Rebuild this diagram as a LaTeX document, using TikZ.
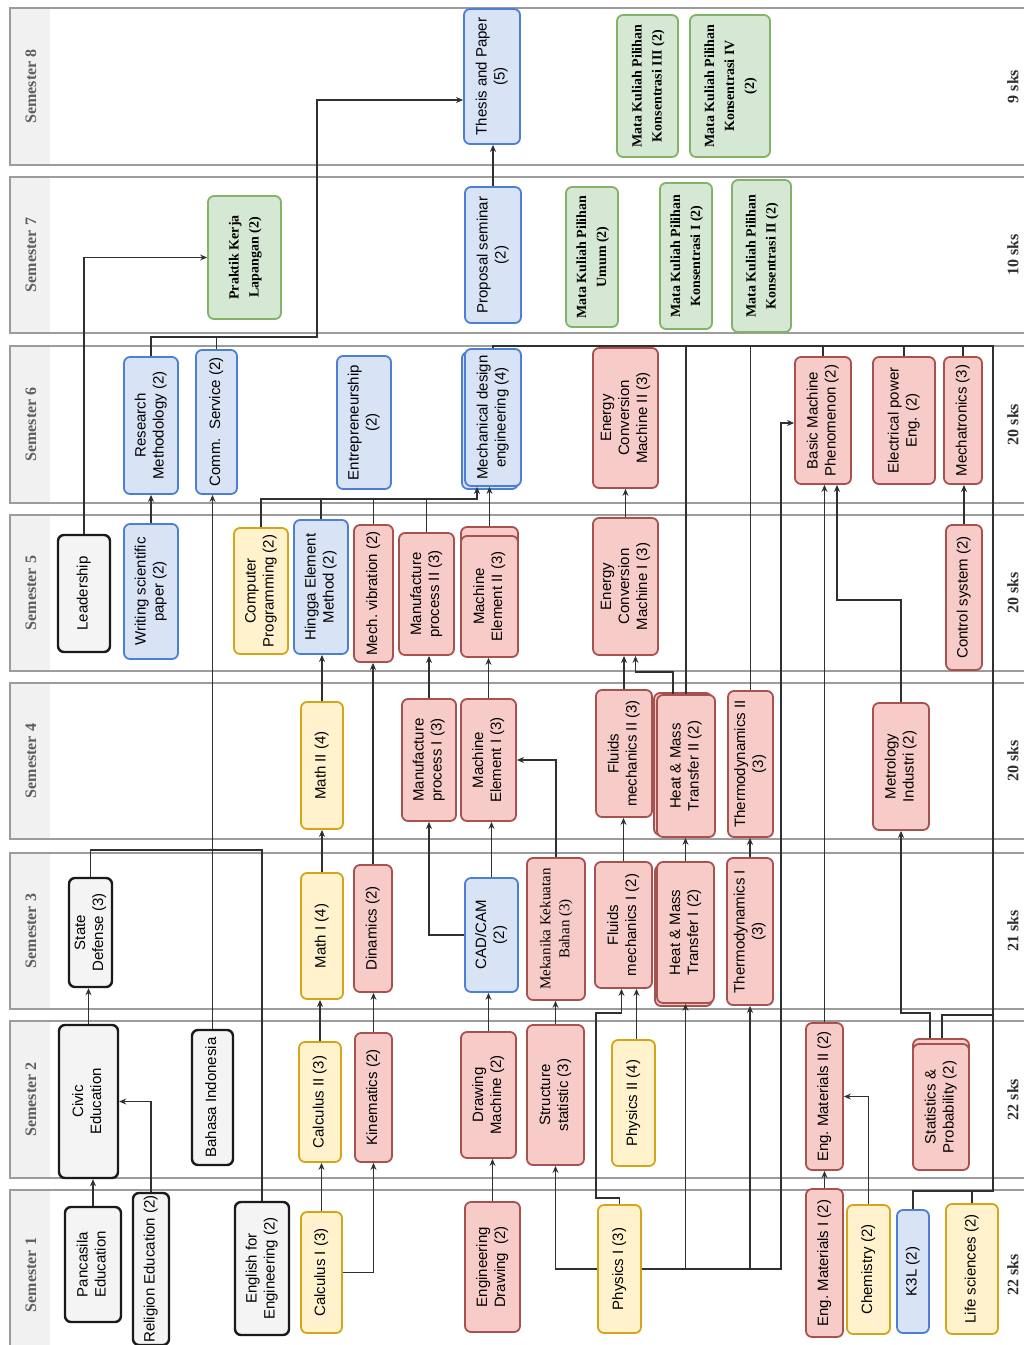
\documentclass[tikz,border=0pt]{standalone}
\usepackage{fontspec}
\setmainfont{Liberation Sans}
\newfontfamily\serf{Liberation Serif}
\usepackage{graphicx}
\usetikzlibrary{arrows.meta,positioning,calc,shadows}
\definecolor{cBlue}{HTML}{D9E3F6}
\definecolor{cBlueL}{HTML}{4D7FD6}
\definecolor{cRed}{HTML}{F6CBC8}
\definecolor{cRedL}{HTML}{A8524F}
\definecolor{cYel}{HTML}{FFF2CC}
\definecolor{cYelL}{HTML}{D4A516}
\definecolor{cGrn}{HTML}{D5E8D4}
\definecolor{cGrnL}{HTML}{82B366}
\definecolor{cGry}{HTML}{F4F4F4}
\definecolor{cDark}{HTML}{1A1A1A}
\definecolor{cLine}{HTML}{303030}
\definecolor{cBand}{HTML}{9C9C9C}
\definecolor{cHead}{HTML}{F1F1F1}
\definecolor{cSem}{HTML}{5E5E5E}
\newcommand{\vt}[1]{\rotatebox{90}{\begin{tabular}{@{}c@{}}#1\end{tabular}}}
\tikzset{
  crs/.style    = {rectangle, rounded corners=6pt, line width=1.8pt, inner sep=0pt,
                   font=\fontsize{15}{18}\selectfont, text=black},
  wh/.style n args = {2}{minimum width=#1, minimum height=#2},
  blub/.style   = {crs, draw=cBlueL, fill=cBlue},
  redb/.style   = {crs, draw=cRedL, fill=cRed},
  yelb/.style   = {crs, draw=cYelL, fill=cYel},
  grnb/.style   = {crs, draw=cGrnL, fill=cGrn, font=\serf\bfseries\fontsize{14}{20}\selectfont},
  gryb/.style   = {crs, draw=cDark, fill=cGry, line width=2.4pt},
  band/.style   = {draw=cBand, line width=1.3pt},
  semlab/.style = {font=\serf\bfseries\fontsize{16}{18}\selectfont, text=cSem, inner sep=0pt},
  skslab/.style = {font=\serf\bfseries\fontsize{16}{18}\selectfont, text=cLine, inner sep=0pt},
  fl/.style     = {-{Stealth[length=7pt,width=6pt]}, draw=cLine, line width=1.1pt},
  ln/.style     = {draw=cLine, line width=1.1pt},
}

\begin{document}
\begin{tikzpicture}[x=1pt, y=-1pt]
  \useasboundingbox (0,0) rectangle (1024,1345);

  % semester bands
  \fill[cHead] (10,8) rectangle (50,165);
  \draw[band] (10,8) rectangle (1034,165);
  \node[semlab] (s8) at (31,86.5) {\rotatebox{90}{Semester 8}};
  \node[skslab] (k8) at (1013,86.5) {\rotatebox{90}{9 sks}};
  \fill[cHead] (10,177) rectangle (50,333);
  \draw[band] (10,177) rectangle (1034,333);
  \node[semlab] (s7) at (31,255) {\rotatebox{90}{Semester 7}};
  \node[skslab] (k7) at (1013,255) {\rotatebox{90}{10 sks}};
  \fill[cHead] (10,346) rectangle (50,503);
  \draw[band] (10,346) rectangle (1034,503);
  \node[semlab] (s6) at (31,424.5) {\rotatebox{90}{Semester 6}};
  \node[skslab] (k6) at (1013,424.5) {\rotatebox{90}{20 sks}};
  \fill[cHead] (10,515) rectangle (50,671);
  \draw[band] (10,515) rectangle (1034,671);
  \node[semlab] (s5) at (31,593) {\rotatebox{90}{Semester 5}};
  \node[skslab] (k5) at (1013,593) {\rotatebox{90}{20 sks}};
  \fill[cHead] (10,683) rectangle (50,839);
  \draw[band] (10,683) rectangle (1034,839);
  \node[semlab] (s4) at (31,761) {\rotatebox{90}{Semester 4}};
  \node[skslab] (k4) at (1013,761) {\rotatebox{90}{20 sks}};
  \fill[cHead] (10,853) rectangle (50,1009);
  \draw[band] (10,853) rectangle (1034,1009);
  \node[semlab] (s3) at (31,931) {\rotatebox{90}{Semester 3}};
  \node[skslab] (k3) at (1013,931) {\rotatebox{90}{21 sks}};
  \fill[cHead] (10,1021) rectangle (50,1178);
  \draw[band] (10,1021) rectangle (1034,1178);
  \node[semlab] (s2) at (31,1099.5) {\rotatebox{90}{Semester 2}};
  \node[skslab] (k2) at (1013,1099.5) {\rotatebox{90}{22 sks}};
  \fill[cHead] (10,1190) rectangle (50,1360);
  \draw[band] (10,1190) rectangle (1034,1360);
  \node[semlab] (s1) at (31,1275) {\rotatebox{90}{Semester 1}};
  \node[skslab] (k1) at (1013,1275) {\rotatebox{90}{22 sks}};

  % semester 8
  \node[blub, wh={56}{135}] (thesis) at (492,76.5) {\vt{Thesis and Paper\\(5)}};
  \node[grnb, wh={61}{142}] (mkp3) at (647.5,86) {\vt{Mata Kuliah Pilihan\\Konsentrasi III (2)}};
  \node[grnb, wh={80}{142}] (mkp4) at (730,86) {\vt{Mata Kuliah Pilihan\\Konsentrasi IV\\(2)}};

  % semester 7
  \node[grnb, wh={73}{123}] (pkl) at (244.5,257.5) {\vt{Praktik Kerja\\Lapangan (2)}};
  \node[blub, wh={56}{136}] (proposal) at (493,255) {\vt{Proposal seminar\\(2)}};
  \node[grnb, wh={52}{140}] (mkpu) at (592,257) {\vt{Mata Kuliah Pilihan\\Umum (2)}};
  \node[grnb, wh={52}{146}] (mkpk1) at (686,256) {\vt{Mata Kuliah Pilihan\\Konsentrasi I (2)}};
  \node[grnb, wh={59}{152}] (mkpk2) at (761.5,256) {\vt{Mata Kuliah Pilihan\\Konsentrasi II (2)}};

  % semester 6
  \node[blub, wh={54}{137}] (resmeth) at (151,425.5) {\vt{Research\\Methodology (2)}};
  \node[blub, wh={41}{144}] (commserv) at (216.5,422) {\vt{Comm.\ \ Service (2)}};
  \node[blub, wh={54}{133}] (entre) at (364,422.5) {\vt{Entrepreneurship\\(2)}};
  \node[blub, copy shadow={shadow xshift=-3pt, shadow yshift=-3pt}, wh={56}{137}] (mechdes) at (493,417.5) {\vt{Mechanical design\\engineering (4)}};
  \node[redb, wh={65}{140}] (ecm2) at (625.5,418) {\vt{Energy\\Conversion\\Machine II (3)}};
  \node[redb, wh={56}{127}] (basic) at (823,420.5) {\vt{Basic Machine\\Phenomenon (2)}};
  \node[redb, wh={62}{127}] (elec) at (904,420.5) {\vt{Electrical power\\Eng. (2)}};
  \node[redb, wh={38}{127}] (mecha) at (963,420.5) {\vt{Mechatronics (3)}};

  % semester 5
  \node[gryb, wh={52}{117}] (leader) at (84,593.5) {\vt{Leadership}};
  \node[blub, wh={54}{135}] (writing) at (151,591.5) {\vt{Writing scientific\\paper (2)}};
  \node[yelb, wh={54}{126}] (comprog) at (261,591) {\vt{Computer\\Programming (2)}};
  \node[blub, wh={54}{134}] (hingga) at (321,587) {\vt{Hingga Element\\Method (2)}};
  \node[redb, wh={39}{137}] (mechvib) at (373.5,593.5) {\vt{Mech.\ vibration (2)}};
  \node[redb, wh={55}{122}] (manuf2) at (426.5,594) {\vt{Manufacture\\process II (3)}};
  \node[redb, copy shadow={shadow xshift=0pt, shadow yshift=9pt}, wh={57}{121}] (machel2) at (489.5,596.5) {\vt{Machine\\Element II (3)}};
  \node[redb, wh={65}{137}] (ecm1) at (625.5,586.5) {\vt{Energy\\Conversion\\Machine I (3)}};
  \node[redb, wh={36}{145}] (control) at (964,597.5) {\vt{Control system (2)}};

  % semester 4
  \node[yelb, wh={42}{127}] (math2) at (322,765.5) {\vt{Math II (4)}};
  \node[redb, wh={54}{122}] (manuf1) at (429,760) {\vt{Manufacture\\process I (3)}};
  \node[redb, wh={55}{122}] (machel1) at (488.5,760) {\vt{Machine\\Element I (3)}};
  \node[redb, wh={56}{127}] (fluid2) at (624,753.5) {\vt{Fluids\\mechanics II (3)}};
  \node[redb, copy shadow={shadow xshift=-3pt, shadow yshift=2pt}, wh={58}{142}] (hmt2) at (686,766) {\vt{Heat \& Mass\\Transfer II (2)}};
  \node[redb, wh={45}{146}] (thermo2) at (750.5,764) {\vt{Thermodynamics II\\(3)}};
  \node[redb, wh={56}{127}] (metro) at (901,766.5) {\vt{Metrology\\Industri (2)}};

  % semester 3
  \node[gryb, wh={43}{109}] (statedef) at (90.5,932.5) {\vt{State\\Defense (3)}};
  \node[yelb, wh={42}{126}] (math1) at (322,936) {\vt{Math I (4)}};
  \node[redb, wh={38}{127}] (dinamics) at (373,928.5) {\vt{Dinamics (2)}};
  \node[blub, wh={53}{114}] (cadcam) at (491.5,935) {\vt{CAD/CAM\\(2)}};
  \node[redb, wh={58}{142}, font=\serf\fontsize{15}{19}\selectfont] (mekanika) at (556,929) {\vt{Mekanika Kekuatan\\Bahan (3)}};
  \node[redb, wh={57}{126}] (fluid1) at (623.5,925) {\vt{Fluids\\mechanics I (2)}};
  \node[redb, copy shadow={shadow xshift=-2pt, shadow yshift=-3pt}, wh={57}{141}] (hmt1) at (685.5,932.5) {\vt{Heat \& Mass\\Transfer I (2)}};
  \node[redb, wh={46}{147}] (thermo1) at (750,931.5) {\vt{Thermodynamics I\\(3)}};

  % semester 2
  \node[gryb, wh={59}{153}] (civic) at (88.5,1101.5) {\vt{Civic\\Education}};
  \node[gryb, wh={41}{135}] (bahasa) at (212.5,1097.5) {\vt{Bahasa Indonesia}};
  \node[yelb, wh={42}{120}] (calc2) at (320,1102) {\vt{Calculus II (3)}};
  \node[redb, wh={37}{129}] (kinem) at (373.5,1097.5) {\vt{Kinematics (2)}};
  \node[redb, wh={55}{126}] (drawm) at (488.5,1095) {\vt{Drawing\\Machine (2)}};
  \node[redb, wh={57}{140}] (struct) at (555.5,1095) {\vt{Structure\\statistic (3)}};
  \node[yelb, wh={43}{126}] (phys2) at (633.5,1103) {\vt{Physics II (4)}};
  \node[redb, wh={37}{147}] (engmat2) at (824.5,1096.5) {\vt{Eng.\ Materials II (2)}};
  \node[redb, copy shadow={shadow xshift=0pt, shadow yshift=5pt}, wh={56}{126}] (stats) at (941,1107) {\vt{Statistics \&\\Probability (2)}};

  % semester 1
  \node[gryb, wh={56}{115}] (pancasila) at (93,1264.5) {\vt{Pancasila\\Education}};
  \node[gryb, wh={36}{152}] (religion) at (151,1269) {\vt{Religion Education (2)}};
  \node[gryb, wh={54}{133}] (english) at (262,1268.5) {\vt{English for\\Engineering (2)}};
  \node[yelb, wh={41}{121}] (calc1) at (321.5,1272.5) {\vt{Calculus I (3)}};
  \node[redb, wh={55}{130}] (engdraw) at (492.5,1267) {\vt{Engineering\\Drawing\ \ (2)}};
  \node[yelb, wh={43}{128}] (phys1) at (619.5,1269) {\vt{Physics I (3)}};
  \node[redb, wh={37}{148}] (engmat1) at (824.5,1263) {\vt{Eng.\ Materials I (2)}};
  \node[yelb, wh={43}{129}] (chem) at (868.5,1269.5) {\vt{Chemistry (2)}};
  \node[blub, wh={32}{123}] (k3l) at (913,1271.5) {\vt{K3L (2)}};
  \node[yelb, wh={52}{130}] (life) at (972,1269) {\vt{Life sciences (2)}};

  % general courses
  \draw[fl] (pancasila.north) -- (pancasila.north |- civic.south);
  \draw[fl] (religion.north) |- (civic.east);
  \draw[fl] (civic.north) -- (civic.north |- statedef.south);
  \draw[ln] (statedef.north) |- (262,850) -- (english.north);
  \draw[fl] (bahasa.north) -- (bahasa.north |- commserv.south);
  \draw[fl] (writing.north) -- (writing.north |- resmeth.south);
  \draw[fl] (leader.north) |- (pkl.west);
  \draw[fl] (resmeth.north) |- (317,337) |- ([yshift=-23.5pt]thesis.west);
  \draw[ln] (commserv.north) -- (commserv.north |- 0,337);
  \draw[fl] (proposal.north) -- (proposal.north |- thesis.south);

  % math and mechanics
  \draw[fl] (calc1.north) -- (calc1.north |- calc2.south);
  \draw[fl] (calc2.north) -- (calc2.north |- math1.south);
  \draw[fl] (math1.north) -- (math1.north |- math2.south);
  \draw[fl] (math2.north) -- (math2.north |- hingga.south);
  \draw[fl] (calc1.east) -| (kinem.south);
  \draw[fl] (kinem.north) -- (kinem.north |- dinamics.south);
  \draw[fl] (dinamics.north) -- (dinamics.north |- mechvib.south);

  % design and manufacture
  \draw[fl] (engdraw.north) -- (engdraw.north |- drawm.south);
  \draw[fl] (drawm.north) -- (drawm.north |- cadcam.south);
  \draw[fl] (cadcam.west) -| (manuf1.south);
  \draw[fl] (cadcam.north) -- (cadcam.north |- machel1.south);
  \draw[fl] (machel1.north) -- (machel1.north |- machel2.south);
  \draw[fl] (manuf1.north) -- (manuf1.north |- manuf2.south);
  \draw[fl] (struct.north) -- (struct.north |- mekanika.south);
  \draw[fl] (mekanika.north) |- (machel1.east);
  \coordinate (mdin) at ([xshift=-16pt]mechdes.south);
  \draw[fl] (comprog.north) |- (mdin |- 0,499) -- (mdin);
  \draw[ln] (hingga.north) -- (hingga.north |- 0,499);
  \draw[ln] (mechvib.north) -- (mechvib.north |- 0,499);
  \draw[ln] (manuf2.north) -- (manuf2.north |- 0,499);
  \draw[fl] ([yshift=9pt]machel2.north) -- (machel2.north |- mechdes.south);

  % physics and energy
  \draw[fl] (phys1.west) -| (struct.south);
  \draw[fl] (phys1.north) |- (596,1198) -- (596,1013) -| ([xshift=-2pt]fluid1.south);
  \coordinate (f1b) at ([xshift=13pt]fluid1.south);
  \draw[fl] (f1b |- phys2.north) -- (f1b);
  \draw[fl] (phys1.east) -| (hmt1.south);
  \draw[fl] (phys1.east) -| (thermo1.south);
  \draw[fl] (phys1.east) -| (781,423) -- (basic.west |- 781,423);
  \draw[fl] (fluid1.north) -- (fluid1.north |- fluid2.south);
  \draw[fl] (fluid2.north) -- (fluid2.north |- ecm1.south);
  \coordinate (e1b) at ([xshift=10pt]ecm1.south);
  \draw[fl] ([xshift=-13pt]hmt2.north) |- (e1b |- 0,672) -- (e1b);
  \draw[fl] (ecm1.north) -- (ecm1.north |- ecm2.south);
  \draw[fl] (hmt1.north) -- (hmt1.north |- hmt2.south);
  \draw[fl] (thermo1.north) -- (thermo1.north |- thermo2.south);

  % materials, statistics, control
  \draw[fl] (engmat1.north) -- (engmat1.north |- engmat2.south);
  \draw[fl] (chem.north) |- (engmat2.east);
  \draw[fl] (engmat2.north) -- (engmat2.north |- basic.south);
  \draw[fl] ([xshift=-11pt,yshift=5pt]stats.north) |- (metro.south |- 0,1013) -- (metro.south);
  \coordinate (bmb) at ([xshift=14pt]basic.south);
  \draw[fl] (metro.north) |- (bmb |- 0,600) -- (bmb);
  \draw[fl] (control.north) -- (control.north |- mecha.south);

  % top collector line
  \draw[ln] (mechdes.north) -- (mechdes.north |- 0,346) -- (993,346) -- (993,1191) -| (k3l.north);
  \draw[ln] (hmt2.north) -- (hmt2.north |- 0,346);
  \draw[ln] (thermo2.north) -- (thermo2.north |- 0,346);
  \draw[ln] (basic.north) -- (basic.north |- 0,346);
  \draw[ln] (elec.north) -- (elec.north |- 0,346);
  \draw[ln] (mecha.north) -- (mecha.north |- 0,346);
  \draw[ln] (life.north) -- (life.north |- 0,1191);
  \draw[ln] ([xshift=1pt,yshift=5pt]stats.north) |- (993,1015);
\end{tikzpicture}
\end{document}
